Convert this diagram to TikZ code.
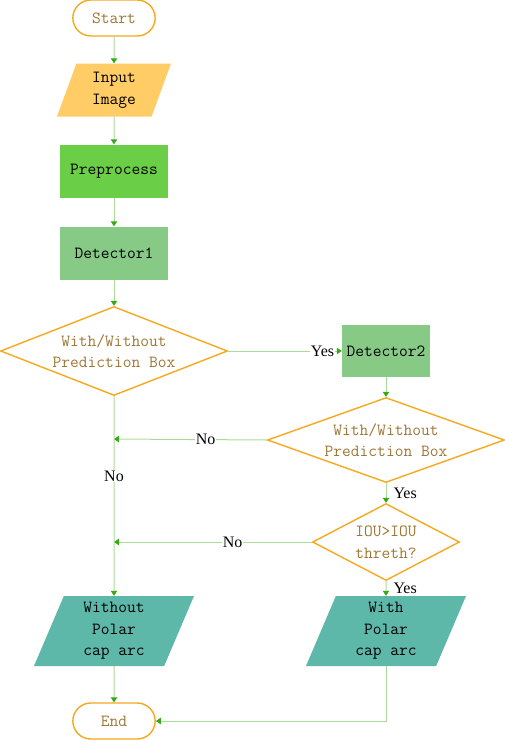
\documentclass[tikz,border=0pt]{standalone}
\usepackage{fontspec}
\usepackage{tikz}
\usepackage{xcolor}
\usetikzlibrary{shapes.geometric,shapes.misc,arrows.meta}
\newfontfamily\lblfont{Liberation Serif}
\definecolor{flowline}{RGB}{172,218,152}
\definecolor{tipgreen}{RGB}{52,170,20}
\definecolor{orangeline}{RGB}{246,168,30}
\definecolor{browntext}{RGB}{158,118,52}
\definecolor{inputfill}{RGB}{255,204,102}
\definecolor{prepfill}{RGB}{106,206,70}
\definecolor{detfill}{RGB}{134,202,134}
\definecolor{outfill}{RGB}{94,184,170}
\tikzset{
  boxfont/.style={font=\ttfamily\fontsize{17}{21.5}\selectfont,align=center},
  terminal/.style={boxfont,rounded rectangle,draw=orangeline,line width=1.4pt,text=browntext,minimum width=89pt,minimum height=36pt},
  inout/.style={boxfont,trapezium,trapezium left angle=64,trapezium right angle=116,trapezium stretches body,inner sep=2pt},
  process/.style={boxfont,rectangle,minimum height=53pt},
  decision/.style={boxfont,diamond,draw=orangeline,line width=1.4pt,text=browntext,inner sep=0pt},
  flow/.style={draw=flowline,line width=1pt,-{Triangle[length=5pt,width=6.5pt,color=tipgreen]}},
  lbl/.style={fill=white,inner sep=1pt,font=\lblfont\fontsize{16}{18}\selectfont}
}
\begin{document}
\begin{tikzpicture}[x=1pt,y=-1pt]
\useasboundingbox (0,0) rectangle (505,740);
\node[terminal] (start) at (114,18) {Start};
\node[inout,fill=inputfill,minimum width=114pt,minimum height=53pt] (input) at (114,90) {Input\\Image};
\node[process,fill=prepfill,minimum width=108pt] (prep) at (114,171) {Preprocess};
\node[process,fill=detfill,minimum width=108pt] (det1) at (114,253) {Detector1};
\node[decision,aspect=2.55,minimum width=227pt,minimum height=89pt] (dia1) at (114,351) {With/Without\\Prediction Box};
\node[process,fill=detfill,minimum width=88pt,minimum height=52pt] (det2) at (386,351) {Detector2};
\node[decision,aspect=2.79,minimum width=237pt,minimum height=85pt] (dia2) at (386,440) {With/Without\\Prediction Box};
\node[decision,aspect=1.9,minimum width=147pt,minimum height=77pt] (dia3) at (386,542) {IOU>IOU\\threth?};
\node[inout,fill=outfill,minimum width=160pt,minimum height=70pt] (without) at (114,631) {Without\\Polar\\cap arc};
\node[inout,fill=outfill,minimum width=160pt,minimum height=70pt] (with) at (386,631) {With\\Polar\\cap arc};
\node[terminal] (end) at (114,721) {End};
\coordinate (join1) at (114,439);
\coordinate (join2) at (114,542);
\draw[flow] (start) -- (input);
\draw[flow] (input) -- (prep);
\draw[flow] (prep) -- (det1);
\draw[flow] (det1) -- (dia1);
\draw[flow] (dia1.east) -- node[lbl,pos=0.83] {Yes} (det2.west);
\draw[flow] (det2) -- (dia2);
\draw[flow] (dia2.west) -- node[lbl,pos=0.4] {No} (join1);
\draw[flow] (dia2.south) -- node[lbl,right=6pt] {Yes} (dia3.north);
\draw[flow] (dia3.west) -- node[lbl,pos=0.4] {No} (join2);
\draw[flow] (dia1.south) -- node[lbl,pos=0.4] {No} (without.north);
\draw[flow] (dia3.south) -- node[lbl,right=6pt,fill=none] {Yes} (with.north);
\draw[flow] (without) -- (end);
\draw[flow] (with.south) |- (end.east);
\end{tikzpicture}
\end{document}
